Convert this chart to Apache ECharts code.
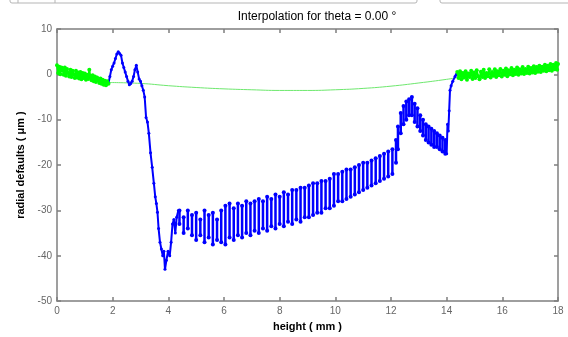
<!DOCTYPE html>
<html>
<head>
<meta charset="utf-8">
<script src="https://cdn.jsdelivr.net/npm/echarts@6/dist/echarts.min.js"></script>
<style>html,body{margin:0;padding:0;background:#fff}#c{width:568px;height:337px}</style>
</head>
<body>
<div id="c"></div>
<script>
// ---- data ----
var greenLeft = [
  [0.00,2.0],[0.04,0.3],[0.08,1.7],[0.12,0.0],[0.16,1.5],[0.20,1.0],[0.24,-0.1],[0.28,1.5],[0.32,-0.3],
  [0.36,1.2],[0.40,0.3],[0.44,-0.5],[0.48,1.0],[0.52,-0.6],[0.56,0.8],[0.60,0.0],[0.64,-0.8],[0.68,0.8],
  [0.72,-0.7],[0.76,0.4],[0.80,-0.9],[0.84,0.5],[0.88,-1.1],[0.92,0.3],[0.96,-0.8],[1.00,0.2],[1.04,-1.2],
  [1.08,-0.1],[1.12,-1.0],[1.16,1.0],[1.20,-0.6],[1.24,-1.3],[1.28,-0.2],[1.32,-1.5],[1.36,-0.5],
  [1.40,-1.7],[1.44,-0.7],[1.48,-1.3],[1.52,-1.9],[1.56,-0.9],[1.60,-2.1],[1.64,-1.2],[1.68,-2.3],
  [1.72,-1.4],[1.76,-2.4],[1.80,-1.5],[1.85,-2.1]
];

var greenRight = [
  [14.38,0.5],[14.43,-0.8],[14.48,0.7],[14.53,-1.1],[14.58,0.3],[14.63,-0.7],[14.68,0.7],[14.73,-1.2],
  [14.78,0.2],[14.83,-0.6],[14.88,0.8],[14.93,-1.0],[14.98,0.4],[15.03,-0.8],[15.08,0.9],[15.13,-0.4],
  [15.18,-1.1],[15.23,0.6],[15.28,-0.6],[15.33,1.0],[15.38,-0.8],[15.43,0.3],[15.48,-0.4],[15.53,1.1],
  [15.58,-0.7],[15.63,0.5],[15.68,-0.3],[15.73,1.1],[15.78,-0.6],[15.83,0.7],[15.88,-0.2],[15.93,1.2],
  [15.98,-0.5],[16.03,0.8],[16.08,-0.1],[16.13,1.3],[16.18,-0.4],[16.23,0.9],[16.28,0.0],[16.33,1.4],
  [16.38,-0.2],[16.43,1.0],[16.48,0.1],[16.53,1.5],[16.58,-0.1],[16.63,1.1],[16.68,0.2],[16.73,1.6],
  [16.78,0.1],[16.83,1.2],[16.88,0.3],[16.93,1.7],[16.98,0.2],[17.03,1.4],[17.08,0.4],[17.13,1.8],
  [17.18,0.3],[17.23,1.6],[17.28,0.6],[17.33,1.9],[17.38,0.5],[17.43,1.7],[17.48,0.8],[17.53,2.1],
  [17.58,0.7],[17.63,1.9],[17.68,0.9],[17.73,2.3],[17.78,0.8],[17.83,2.1],[17.88,1.1],[17.93,2.5],
  [17.97,1.0],[18.00,2.3]
];

var interpLine = [
  [1.85,-1.8],[3.0,-2.0],[4.0,-2.5],[5.0,-2.9],[6.0,-3.2],[7.0,-3.4],[8.0,-3.55],
  [9.0,-3.55],[10.0,-3.4],[11.0,-3.1],[12.0,-2.6],[13.0,-1.9],[14.0,-1.1],[14.4,-0.7]
];

var blueStart = [
  [1.85,-1.9],[1.90,-0.5],[1.95,1.0],[2.00,1.8],[2.05,2.5],[2.10,3.5],[2.15,4.5],[2.20,5.0],
  [2.25,4.6],[2.30,4.2],[2.35,2.5],[2.40,1.5],[2.45,0.5],[2.50,-0.5],[2.55,-1.5],[2.60,-2.3],
  [2.65,-2.0],[2.70,-1.5],[2.75,-0.5],[2.80,1.0],[2.85,2.0],[2.90,0.5],[2.95,-1.0],[3.00,-1.5],
  [3.05,-2.5],[3.10,-3.5],[3.15,-5.0],[3.20,-9.5],[3.25,-10.5],[3.30,-13.0],[3.36,-17.3],
  [3.42,-20.5],[3.48,-24.0],[3.53,-27.0],[3.57,-28.5],[3.61,-30.4],[3.65,-34.0],[3.70,-37.0],
  [3.75,-38.5],[3.80,-40.0],[3.84,-39.0],[3.88,-43.0],[3.93,-41.0],[3.99,-39.0],[4.05,-40.0],
  [4.10,-37.0],[4.15,-33.0],[4.20,-32.0],[4.25,-35.0],[4.30,-31.5],[4.36,-30.0]
];

// vertical sweeps of the measured profile (x, top, bottom)
var stripX = [4.40,4.55,4.70,4.85,5.00,5.15,5.30,5.45,5.60,5.75,5.90,6.05,6.20,6.35,6.50,6.65,6.80,6.95,
              7.10,7.25,7.40,7.55,7.70,7.85,8.00,8.15,8.30,8.45,8.60,8.75,8.90,9.05,9.20,9.35,9.50,9.65,
              9.80,9.95,10.10,10.25,10.40,10.55,10.70,10.85,11.00,11.15,11.30,11.45,11.60,11.75,11.90,12.05,12.18,
              12.25,12.35,12.45,12.55,12.65,12.75,12.85,12.95,13.05,13.15,13.25,13.35,13.45,13.55,13.65,13.75,13.85,13.95];
var stripTop = [-30.0,-31.5,-30.0,-31.0,-30.5,-32.0,-30.0,-31.0,-30.5,-32.0,-30.0,-29.0,-28.5,-29.5,-28.5,-29.0,-28.0,-28.5,
                -28.0,-27.5,-28.0,-27.0,-27.5,-26.5,-27.0,-26.0,-26.5,-25.5,-25.5,-25.0,-25.0,-24.5,-24.0,-24.0,-23.5,-23.5,
                -23.0,-22.0,-22.0,-21.5,-21.0,-21.0,-20.5,-20.0,-19.5,-19.5,-19.0,-18.5,-18.0,-17.5,-17.0,-16.5,-14.5,
                -11.5,-8.5,-7.0,-6.0,-5.5,-5.0,-6.5,-7.5,-9.0,-10.0,-11.0,-11.5,-12.0,-12.5,-13.0,-13.5,-14.0,-14.5];
var stripBottom = [-33.0,-35.0,-34.0,-35.5,-36.5,-35.5,-37.0,-36.0,-37.5,-36.5,-37.0,-37.5,-36.0,-36.5,-35.5,-36.0,-35.0,-35.5,
                   -34.5,-35.0,-34.0,-34.5,-33.5,-34.0,-33.0,-33.5,-32.5,-33.0,-32.0,-32.5,-31.5,-31.5,-31.0,-30.5,-30.5,-29.5,
                   -29.5,-29.0,-28.0,-28.0,-27.5,-27.0,-26.5,-26.0,-25.5,-25.0,-24.5,-24.0,-23.5,-23.0,-22.5,-22.0,-19.5,
                   -16.5,-13.0,-11.0,-10.0,-9.0,-9.0,-10.5,-11.5,-12.5,-13.5,-14.5,-15.0,-15.5,-16.0,-16.0,-16.5,-17.0,-17.5];

var blueEnd = [
  [14.00,-17.5],[14.03,-11.0],[14.06,-12.5],[14.09,-8.0],[14.12,-3.5],[14.16,-2.5],[14.22,-1.5],
  [14.30,-0.5],[14.35,0.0]
];

// one short segment per sweep, separated by gaps
var sweepData = [];
for (var i = 0; i < stripX.length; i++) {
  sweepData.push([stripX[i], stripBottom[i]]);
  sweepData.push([stripX[i], stripTop[i]]);
  sweepData.push([stripX[i], null]);
}

var FONT = '"Liberation Sans", Arial, sans-serif';
var axisLineStyle = { color: '#7f7f7f', width: 1.5 };
var blue = '#0000ff', green = '#00ff00';

var chart = echarts.init(document.getElementById('c'));
chart.setOption({
  animation: false,
  backgroundColor: '#fff',
  title: {
    text: 'Interpolation for theta = 0.00 °',
    left: 312, top: 6, textAlign: 'center',
    textStyle: { fontFamily: FONT, fontSize: 12, fontWeight: 'normal', color: '#000' }
  },
  graphic: [
    { type: 'rect', shape: { x: 10, y: -6, width: 407, height: 9, r: 2 }, style: { fill: '#fff', stroke: '#b5b5b5', lineWidth: 1 } },
    { type: 'line', shape: { x1: 18, y1: -2, x2: 18, y2: 3 }, style: { stroke: '#b5b5b5' } },
    { type: 'line', shape: { x1: 55, y1: -2, x2: 55, y2: 3 }, style: { stroke: '#b5b5b5' } },
    { type: 'rect', shape: { x: 440, y: -6, width: 140, height: 9, r: 2 }, style: { fill: '#fff', stroke: '#b5b5b5', lineWidth: 1 } }
  ],
  grid: { left: 57, right: 10, top: 29, bottom: 35, containLabel: false },
  xAxis: [{
    type: 'value', min: 0, max: 18, interval: 2, position: 'bottom',
    name: 'height ( mm )', nameLocation: 'middle', nameGap: 19,
    nameTextStyle: { fontFamily: FONT, fontSize: 11, fontWeight: 'bold', color: '#000' },
    axisLine: { show: true, onZero: false, lineStyle: axisLineStyle },
    axisTick: { show: true, inside: true, length: 4, lineStyle: axisLineStyle },
    axisLabel: { fontFamily: FONT, fontSize: 10, color: '#666', margin: 5 },
    splitLine: { show: false }
  }, {
    type: 'value', min: 0, max: 18, interval: 2, position: 'top',
    axisLine: { show: true, onZero: false, lineStyle: axisLineStyle },
    axisTick: { show: true, inside: true, length: 4, lineStyle: axisLineStyle },
    axisLabel: { show: false }, splitLine: { show: false }
  }],
  yAxis: [{
    type: 'value', min: -50, max: 10, interval: 10, position: 'left',
    name: 'radial defaults ( μm )', nameLocation: 'middle', nameGap: 23, nameRotate: 90,
    nameTextStyle: { fontFamily: FONT, fontSize: 11, fontWeight: 'bold', color: '#000' },
    axisLine: { show: true, onZero: false, lineStyle: axisLineStyle },
    axisTick: { show: true, inside: true, length: 4, lineStyle: axisLineStyle },
    axisLabel: { fontFamily: FONT, fontSize: 10, color: '#666', margin: 5 },
    splitLine: { show: false }
  }, {
    type: 'value', min: -50, max: 10, interval: 10, position: 'right',
    axisLine: { show: true, onZero: false, lineStyle: axisLineStyle },
    axisTick: { show: true, inside: true, length: 4, lineStyle: axisLineStyle },
    axisLabel: { show: false }, splitLine: { show: false }
  }],
  series: [
    { type: 'line', data: interpLine, smooth: true, symbol: 'none',
      lineStyle: { color: '#6ee86e', width: 1 }, z: 2 },
    { type: 'line', data: blueStart, symbol: 'circle', symbolSize: 3,
      itemStyle: { color: blue }, lineStyle: { color: blue, width: 2 }, z: 3 },
    { type: 'line', data: sweepData, connectNulls: false, symbol: 'circle', symbolSize: 4,
      itemStyle: { color: blue }, lineStyle: { color: blue, width: 2.5 }, z: 3 },
    { type: 'line', data: blueEnd, symbol: 'circle', symbolSize: 3,
      itemStyle: { color: blue }, lineStyle: { color: blue, width: 2 }, z: 3 },
    { type: 'line', data: greenLeft, symbol: 'circle', symbolSize: 4,
      itemStyle: { color: green }, lineStyle: { color: green, width: 2 }, z: 4 },
    { type: 'line', data: greenRight, symbol: 'circle', symbolSize: 4,
      itemStyle: { color: green }, lineStyle: { color: green, width: 2 }, z: 4 }
  ]
});
</script>
</body>
</html>
